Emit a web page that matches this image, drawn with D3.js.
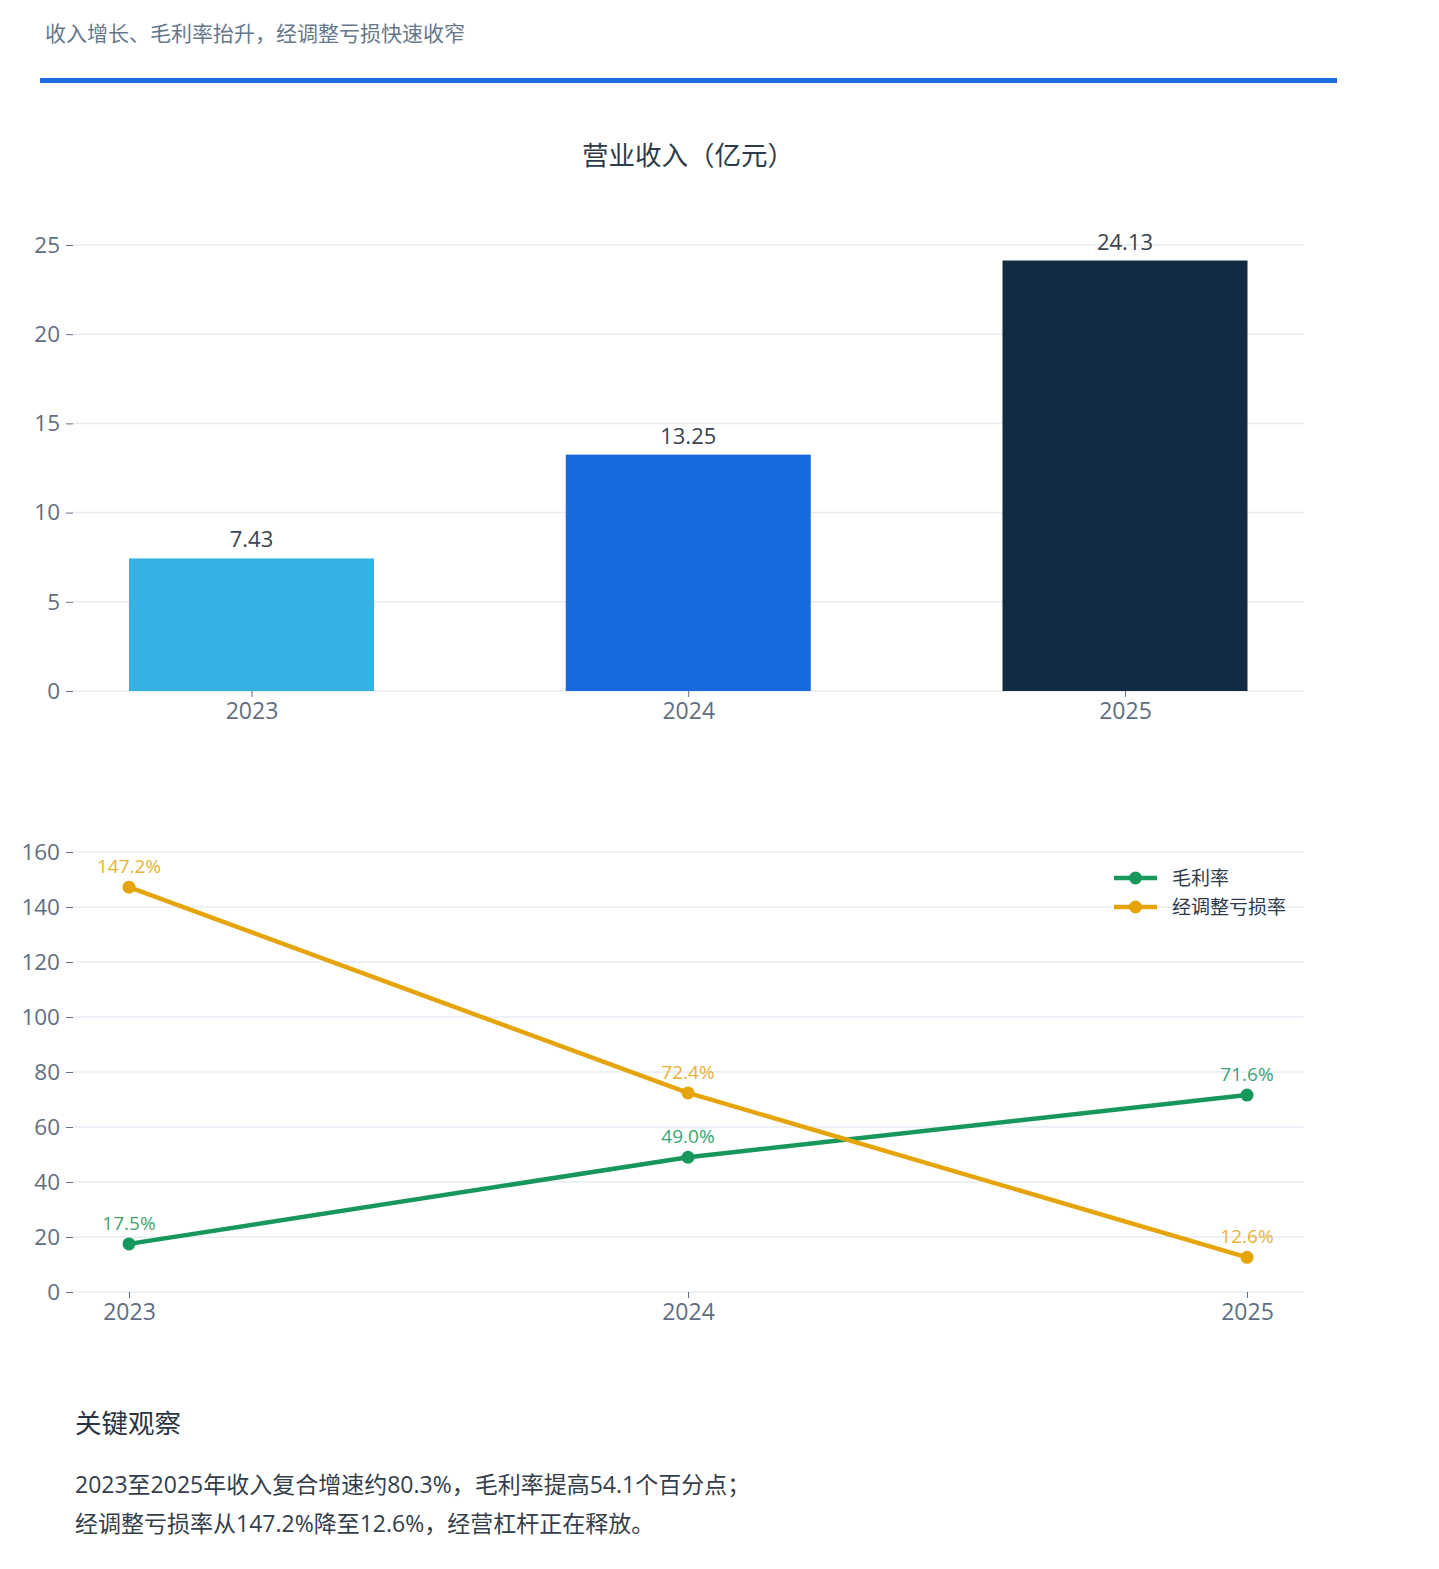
<!DOCTYPE html>
<html>
<head>
<meta charset="utf-8">
<script src="https://cdn.jsdelivr.net/npm/d3@7"></script>
<style>
  body { margin: 0; background: #fff; font-family: "Open Sans", "Noto Sans CJK SC", sans-serif; }
  svg text { font-family: "Open Sans", "Noto Sans CJK SC", sans-serif; }
</style>
</head>
<body>
<svg width="1439" height="1569"></svg>
<script>
const years = ["2023", "2024", "2025"];
const revenue = [7.43, 13.25, 24.13];
const barColors = ["#35b1e3", "#1769dd", "#132a43"];
const revTicks = [0, 5, 10, 15, 20, 25];

const grossMargin = [17.5, 49.0, 71.6];
const adjLossRate = [147.2, 72.4, 12.6];
const rateTicks = [0, 20, 40, 60, 80, 100, 120, 140, 160];
const seriesNames = ["毛利率", "经调整亏损率"];
const seriesColors = ["#17975b", "#e5a50a"];
const labelColors = ["#3ba373", "#e9b135"];

const headline = "收入增长、毛利率抬升，经调整亏损快速收窄";
const barTitle = "营业收入（亿元）";
const notesTitle = "关键观察";
const notes = [
  "2023至2025年收入复合增速约80.3%，毛利率提高54.1个百分点；",
  "经调整亏损率从147.2%降至12.6%，经营杠杆正在释放。"
];

const svg = d3.select("svg");
const gridColor = "#e6ecf4";
const tickColor = "#5f6e82";

// header
svg.append("text").attr("x", 45).attr("y", 41)
  .attr("font-size", 21).attr("fill", "#66778c").text(headline);
svg.append("rect").attr("x", 40).attr("y", 78).attr("width", 1297).attr("height", 5)
  .attr("fill", "#1a6ae0");

// ---- bar chart ----
const plotL = 73, plotR = 1304;
svg.append("text").attr("x", 688).attr("y", 165).attr("text-anchor", "middle")
  .attr("font-size", 26.5).attr("fill", "#2e3a4a").text(barTitle);

const xBar = d3.scalePoint().domain(years).range([251.5, 1125]);
const yBar = d3.scaleLinear().domain([0, 25]).range([691, 245]);
const barW = 245;

const gBar = svg.append("g");
gBar.selectAll("line.grid").data(revTicks).join("line")
  .attr("x1", plotL).attr("x2", plotR)
  .attr("y1", d => yBar(d)).attr("y2", d => yBar(d))
  .attr("stroke", gridColor).attr("stroke-width", 1.5);

const yAxisBar = gBar.append("g").attr("transform", `translate(${plotL},0)`)
  .call(d3.axisLeft(yBar).tickValues(revTicks).tickSize(7).tickPadding(6));
yAxisBar.select(".domain").remove();
yAxisBar.selectAll("line").attr("stroke", tickColor);
yAxisBar.selectAll("text").attr("font-size", 22.5).attr("fill", tickColor);

gBar.selectAll("rect.bar").data(revenue).join("rect")
  .attr("x", (d, i) => xBar(years[i]) - barW / 2)
  .attr("width", barW)
  .attr("y", d => yBar(d))
  .attr("height", d => yBar(0) - yBar(d))
  .attr("fill", (d, i) => barColors[i]);

gBar.selectAll("text.val").data(revenue).join("text")
  .attr("x", (d, i) => xBar(years[i]))
  .attr("y", d => yBar(d) - 11)
  .attr("text-anchor", "middle")
  .attr("font-size", 22).attr("fill", "#3a4452")
  .text(d => d.toFixed(2));

const xAxisBar = gBar.append("g").attr("transform", `translate(0,${yBar(0)})`)
  .call(d3.axisBottom(xBar).tickSize(6).tickPadding(6));
xAxisBar.select(".domain").remove();
xAxisBar.selectAll("line").attr("stroke", tickColor);
xAxisBar.selectAll("text").attr("font-size", 23).attr("fill", tickColor);

// ---- line chart ----
const xLine = d3.scalePoint().domain(years).range([129, 1247]);
const yLine = d3.scaleLinear().domain([0, 160]).range([1292, 852]);
const gLine = svg.append("g");

gLine.selectAll("line.grid").data(rateTicks).join("line")
  .attr("x1", plotL).attr("x2", plotR)
  .attr("y1", d => yLine(d)).attr("y2", d => yLine(d))
  .attr("stroke", gridColor).attr("stroke-width", 1.5);

const yAxisLine = gLine.append("g").attr("transform", `translate(${plotL},0)`)
  .call(d3.axisLeft(yLine).tickValues(rateTicks).tickSize(7).tickPadding(6));
yAxisLine.select(".domain").remove();
yAxisLine.selectAll("line").attr("stroke", tickColor);
yAxisLine.selectAll("text").attr("font-size", 22.5).attr("fill", tickColor);

const xAxisLine = gLine.append("g").attr("transform", `translate(0,${yLine(0)})`)
  .call(d3.axisBottom(xLine).tickSize(6).tickPadding(6));
xAxisLine.select(".domain").remove();
xAxisLine.selectAll("line").attr("stroke", tickColor);
xAxisLine.selectAll("text").attr("font-size", 23).attr("fill", tickColor);

const series = [grossMargin, adjLossRate];
const line = d3.line().x((d, i) => xLine(years[i])).y(d => yLine(d));

series.forEach((vals, s) => {
  gLine.append("path").datum(vals)
    .attr("d", line).attr("fill", "none")
    .attr("stroke", seriesColors[s]).attr("stroke-width", 4.5)
    .attr("stroke-linejoin", "round");
  gLine.selectAll(`circle.s${s}`).data(vals).join("circle")
    .attr("cx", (d, i) => xLine(years[i])).attr("cy", d => yLine(d))
    .attr("r", 6.5).attr("fill", seriesColors[s]);
  gLine.selectAll(`text.s${s}`).data(vals).join("text")
    .attr("x", (d, i) => xLine(years[i])).attr("y", d => yLine(d) - 14)
    .attr("text-anchor", "middle")
    .attr("font-size", 19).attr("fill", labelColors[s])
    .text(d => d.toFixed(1) + "%");
});

// legend
const legend = svg.append("g").attr("transform", "translate(1114,878)");
seriesNames.forEach((name, s) => {
  const g = legend.append("g").attr("transform", `translate(0,${s * 29})`);
  g.append("line").attr("x1", 0).attr("x2", 43).attr("y1", 0).attr("y2", 0)
    .attr("stroke", seriesColors[s]).attr("stroke-width", 4.5);
  g.append("circle").attr("cx", 21.5).attr("cy", 0).attr("r", 6.5).attr("fill", seriesColors[s]);
  g.append("text").attr("x", 58).attr("y", 7).attr("font-size", 19)
    .attr("fill", "#2e3a4a").text(name);
});

// notes
svg.append("text").attr("x", 75).attr("y", 1433).attr("font-size", 26.5)
  .attr("fill", "#2b3440").text(notesTitle);
svg.selectAll("text.note").data(notes).join("text")
  .attr("x", 75).attr("y", (d, i) => 1493 + i * 39)
  .attr("font-size", 23).attr("fill", "#343e4b").text(d => d);
</script>
</body>
</html>
